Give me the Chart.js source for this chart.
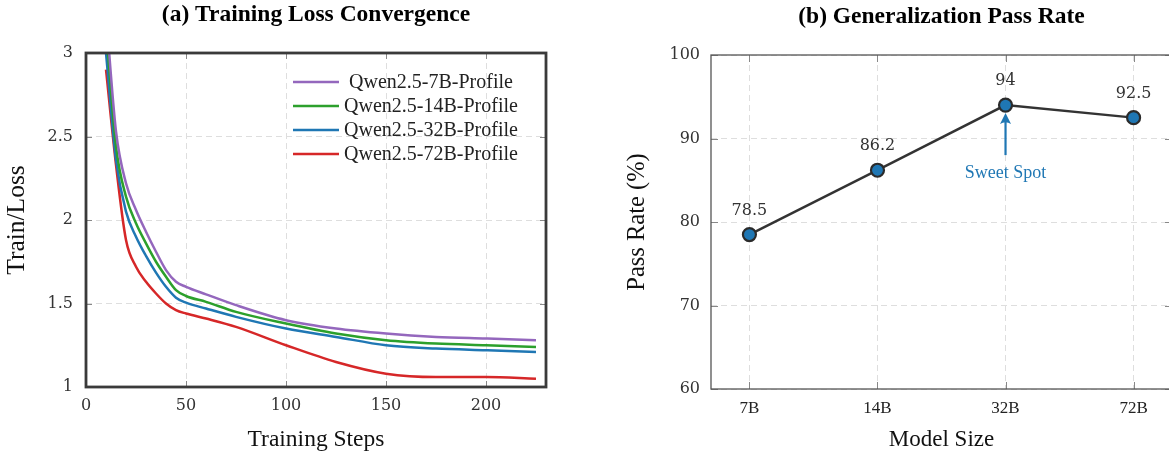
<!DOCTYPE html>
<html><head><meta charset="utf-8">
<script src="https://cdn.jsdelivr.net/npm/chart.js@4.4.1/dist/chart.umd.min.js"></script>
<style>
html,body{margin:0;padding:0;background:#fff;overflow:hidden;width:1169px;height:457px;position:relative;}
canvas{position:absolute;top:0;}
#c1{left:0}
#c2{left:590px}
</style></head><body>
<canvas id="c1" width="590" height="457"></canvas>
<canvas id="c2" width="600" height="457"></canvas>
<script>
// ---------- data ----------
const steps   = [10, 15, 20, 25, 30, 35, 40, 45, 50, 60, 75, 100, 125, 150, 175, 200, 225];
const loss7B  = [3.24, 2.53, 2.22, 2.06, 1.93, 1.81, 1.70, 1.63, 1.60, 1.555, 1.49, 1.40, 1.35, 1.32, 1.30, 1.29, 1.28];
const loss14B = [3.15, 2.44, 2.14, 1.98, 1.86, 1.75, 1.66, 1.58, 1.545, 1.51, 1.45, 1.38, 1.32, 1.28, 1.26, 1.25, 1.24];
const loss32B = [3.00, 2.36, 2.05, 1.90, 1.785, 1.685, 1.60, 1.535, 1.505, 1.47, 1.42, 1.35, 1.30, 1.25, 1.23, 1.22, 1.21];
const loss72B = [2.90, 2.33, 1.88, 1.72, 1.63, 1.56, 1.50, 1.46, 1.44, 1.41, 1.36, 1.25, 1.15, 1.08, 1.06, 1.06, 1.05];
const seriesLabels = ['Qwen2.5-7B-Profile', 'Qwen2.5-14B-Profile', 'Qwen2.5-32B-Profile', 'Qwen2.5-72B-Profile'];
const seriesColors = ['#9467bd', '#2ca02c', '#1f77b4', '#d62728'];

const modelSizes = ['7B', '14B', '32B', '72B'];
const passRate   = [78.5, 86.2, 94, 92.5];
const sweetSpotIndex = 2;
const sweetSpotLabel = 'Sweet Spot';

// ---------- styles ----------
Chart.defaults.font.family = 'DejaVu Serif';
Chart.defaults.color = '#333';
const serif = 'Liberation Serif';
const tickFont = { family: 'DejaVu Serif', size: 16 };
const titleFont = { family: serif, size: 23.5, weight: 'bold' };
const gridColor = '#dedede';
const gridDash = [6, 4];

function frameAndTicks(opts) {
  return {
    id: 'frameTicks',
    afterDatasetsDraw(chart) {
      const { ctx, chartArea: a, scales } = chart;
      ctx.save();
      ctx.strokeStyle = opts.tickColor;
      ctx.lineWidth = 1;
      const L = opts.tickLen;
      const seg = (x1, y1, x2, y2) => { ctx.beginPath(); ctx.moveTo(x1, y1); ctx.lineTo(x2, y2); ctx.stroke(); };
      scales.x.ticks.forEach(t => {
        const px = Math.round(scales.x.getPixelForValue(t.value)) + 0.5;
        seg(px, a.bottom, px, a.bottom - L);
        seg(px, a.top, px, a.top + L);
      });
      scales.y.ticks.forEach(t => {
        const py = Math.round(scales.y.getPixelForValue(t.value)) + 0.5;
        seg(a.left, py, a.left + L, py);
        seg(a.right, py, a.right - L, py);
      });
      ctx.strokeStyle = opts.color;
      ctx.lineWidth = opts.width;
      ctx.strokeRect(a.left, a.top, a.right - a.left, a.bottom - a.top);
      ctx.restore();
    }
  };
}

// ---------- chart (a) ----------
const legendPlugin = {
  id: 'innerLegend',
  afterDraw(chart) {
    const { ctx } = chart;
    ctx.save();
    ctx.font = '20px "' + serif + '"';
    ctx.textAlign = 'center';
    ctx.textBaseline = 'middle';
    chart.data.datasets.forEach((ds, i) => {
      const y = 82 + i * 24;
      ctx.strokeStyle = ds.borderColor;
      ctx.lineWidth = 2.5;
      ctx.beginPath(); ctx.moveTo(293, y); ctx.lineTo(339, y); ctx.stroke();
      ctx.fillStyle = '#222';
      ctx.fillText(ds.label, 431, y + 1);
    });
    ctx.restore();
  }
};

const lossSeries = [loss7B, loss14B, loss32B, loss72B];
new Chart(document.getElementById('c1'), {
  type: 'line',
  data: {
    datasets: lossSeries.map((vals, i) => ({
      label: seriesLabels[i],
      data: steps.map((s, j) => ({ x: s, y: vals[j] })),
      borderColor: seriesColors[i],
      backgroundColor: seriesColors[i],
      borderWidth: 2.5,
      pointRadius: 0,
      cubicInterpolationMode: 'monotone',
      fill: false
    }))
  },
  options: {
    responsive: false,
    animation: false,
    devicePixelRatio: 1,
    layout: { padding: { left: 0, right: 44, top: 0, bottom: 0 } },
    plugins: {
      legend: { display: false },
      tooltip: { enabled: false },
      title: {
        display: true, text: '(a) Training Loss Convergence', fullSize: false,
        font: titleFont, color: '#000', padding: { top: 1, bottom: 23.8 }
      }
    },
    scales: {
      x: {
        type: 'linear', min: 0, max: 230,
        afterFit: s => { s.height = 70; },
        ticks: { stepSize: 50, includeBounds: false, padding: 9, font: tickFont, color: '#333', maxRotation: 0 },
        grid: { color: gridColor, lineWidth: 1, drawTicks: false },
        border: { display: false, dash: gridDash },
        title: { display: true, text: 'Training Steps', font: { family: serif, size: 23.5 }, color: '#111', padding: { top: 0, bottom: 3 } }
      },
      y: {
        type: 'linear', min: 1, max: 3,
        afterFit: s => { s.width = 86; },
        ticks: { stepSize: 0.5, padding: 13, font: tickFont, color: '#333',
                 callback: v => String(Math.round(v * 10) / 10) },
        grid: { color: gridColor, lineWidth: 1, drawTicks: false },
        border: { display: false, dash: gridDash },
        title: { display: true, text: 'Train/Loss', font: { family: serif, size: 25.5 }, color: '#111', padding: { top: 2, bottom: 0 } }
      }
    }
  },
  plugins: [frameAndTicks({ color: '#3a3a3a', width: 2.8, tickColor: '#888', tickLen: 6 }), legendPlugin]
});

// ---------- chart (b) ----------
const annotPlugin = {
  id: 'passAnnot',
  afterDatasetsDraw(chart) {
    const { ctx } = chart;
    const meta = chart.getDatasetMeta(0);
    ctx.save();
    ctx.font = '16px "DejaVu Serif"';
    ctx.fillStyle = '#333';
    ctx.textAlign = 'center';
    ctx.textBaseline = 'middle';
    meta.data.forEach((p, i) => {
      ctx.fillText(String(passRate[i]), p.x, p.y - 24);
    });
    // sweet spot arrow
    const p = meta.data[sweetSpotIndex];
    const blue = '#1f77b4';
    const tipY = p.y + 8, tailY = p.y + 50;
    ctx.strokeStyle = blue; ctx.fillStyle = blue; ctx.lineWidth = 2.2;
    ctx.beginPath(); ctx.moveTo(p.x, tailY); ctx.lineTo(p.x, tipY + 6); ctx.stroke();
    ctx.beginPath();
    ctx.moveTo(p.x, tipY);
    ctx.lineTo(p.x - 5.5, tipY + 11);
    ctx.quadraticCurveTo(p.x, tipY + 7.5, p.x + 5.5, tipY + 11);
    ctx.closePath(); ctx.fill();
    ctx.font = '18px "' + serif + '"';
    ctx.fillText(sweetSpotLabel, p.x, p.y + 68);
    ctx.restore();
  }
};

new Chart(document.getElementById('c2'), {
  type: 'line',
  data: {
    datasets: [{
      label: 'Pass Rate',
      data: passRate.map((v, i) => ({ x: i, y: v })),
      borderColor: '#333',
      borderWidth: 2.5,
      pointRadius: 6.5,
      pointBorderWidth: 2.2,
      pointBackgroundColor: '#1f77b4',
      pointBorderColor: '#2b2b2b',
      tension: 0,
      fill: false
    }]
  },
  options: {
    responsive: false,
    animation: false,
    devicePixelRatio: 1,
    layout: { padding: { left: 0, right: 18, top: 0, bottom: 0 } },
    plugins: {
      legend: { display: false },
      tooltip: { enabled: false },
      title: {
        display: true, text: '(b) Generalization Pass Rate', fullSize: false,
        font: titleFont, color: '#000', padding: { top: 2.6, bottom: 24.2 }
      }
    },
    scales: {
      x: {
        type: 'linear', min: -0.3, max: 3.3,
        afterFit: s => { s.height = 68; },
        afterBuildTicks: s => { s.ticks = modelSizes.map((_, i) => ({ value: i })); },
        ticks: { padding: 9, font: { family: serif, size: 17 }, color: '#222', maxRotation: 0,
                 callback: v => modelSizes[v] },
        grid: { color: gridColor, lineWidth: 1, drawTicks: false },
        border: { display: false, dash: gridDash },
        title: { display: true, text: 'Model Size', font: { family: serif, size: 23 }, color: '#111', padding: { top: 0, bottom: 3 } }
      },
      y: {
        type: 'linear', min: 60, max: 100,
        afterFit: s => { s.width = 121; },
        ticks: { stepSize: 10, padding: 11, font: tickFont, color: '#333' },
        grid: { color: gridColor, lineWidth: 1, drawTicks: false },
        border: { display: false, dash: gridDash },
        title: { display: true, text: 'Pass Rate (%)', font: { family: serif, size: 24.5 }, color: '#111', padding: { top: 33.3, bottom: 0 } }
      }
    }
  },
  plugins: [frameAndTicks({ color: '#555', width: 1.3, tickColor: '#888', tickLen: 7 }), annotPlugin]
});
</script>
</body></html>
